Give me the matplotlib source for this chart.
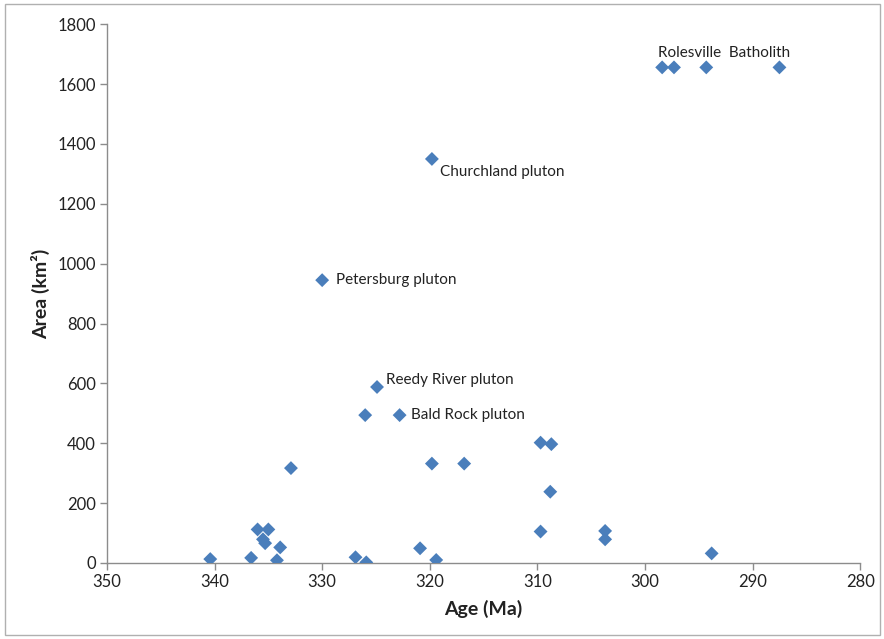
import matplotlib
matplotlib.use("Agg")
import matplotlib.pyplot as plt
from matplotlib.patches import Rectangle

# Data: age (Ma) and area (km^2)
ages = [340.4, 336.6, 336.0, 335.0, 335.5, 335.3, 333.9, 334.2, 332.9, 330.0,
        326.9, 325.9, 326.0, 324.9, 322.8, 320.9, 319.8, 319.8, 319.4, 316.8,
        309.7, 309.7, 308.7, 308.8, 303.7, 303.7, 293.8,
        298.4, 297.3, 294.3, 287.5]
areas = [13, 17, 112, 112, 79, 66, 52, 9, 317, 945,
         19, 2, 494, 588, 494, 49, 332, 1350, 10, 332,
         402, 105, 397, 238, 107, 79, 32,
         1656, 1656, 1656, 1656]

label_names = ["Rolesville  Batholith", "Churchland pluton", "Petersburg pluton",
               "Reedy River pluton", "Bald Rock pluton"]
label_points = [(298.4, 1656), (319.8, 1350), (330.0, 945), (324.9, 588), (322.8, 494)]
label_offsets = [(-3, 10), (6, -9.5), (10, 0), (6.5, 5), (8, 0)]

x_ticks = [350, 340, 330, 320, 310, 300, 290, 280]
y_ticks = [0, 200, 400, 600, 800, 1000, 1200, 1400, 1600, 1800]

plt.rcParams['font.family'] = ['Lato', 'DejaVu Sans']

fig = plt.figure(figsize=(8.84, 6.39), dpi=100)
ax = fig.add_axes([0.121, 0.119, 0.852, 0.843])

ax.scatter(ages, areas, marker='D', s=50, color='#4A7EBB', edgecolors='none', zorder=3)

for name, (px, py), (dx, dy) in zip(label_names, label_points, label_offsets):
    ax.annotate(name, xy=(px, py), xytext=(dx, dy), textcoords='offset points',
                fontsize=11, color='#222222', va='center', ha='left')

ax.set_xlim(350, 280)
ax.set_ylim(0, 1800)
ax.set_xticks(x_ticks)
ax.set_yticks(y_ticks)
ax.set_xticklabels([str(t) for t in x_ticks])
ax.set_yticklabels([str(t) for t in y_ticks])

for s in ['top', 'right']:
    ax.spines[s].set_visible(False)
for s in ['left', 'bottom']:
    ax.spines[s].set_color('#8C8C8C')
    ax.spines[s].set_linewidth(1.0)
ax.tick_params(axis='both', colors='#8C8C8C', labelcolor='#222222', labelsize=12,
               length=5, width=1.0, direction='out')
ax.tick_params(axis='x', pad=3)
ax.tick_params(axis='y', pad=3)

ax.set_xlabel('Age (Ma)', fontsize=14, fontweight='bold', color='#222222', labelpad=7)
ax.set_ylabel('Area (km²)', fontsize=14, fontweight='bold', color='#222222', labelpad=5)

fig.patches.append(Rectangle((0.006, 0.006), 0.989, 0.988, transform=fig.transFigure,
                             fill=False, edgecolor='#B0B0B0', linewidth=1.0))

fig.savefig('out.png', dpi=100)
